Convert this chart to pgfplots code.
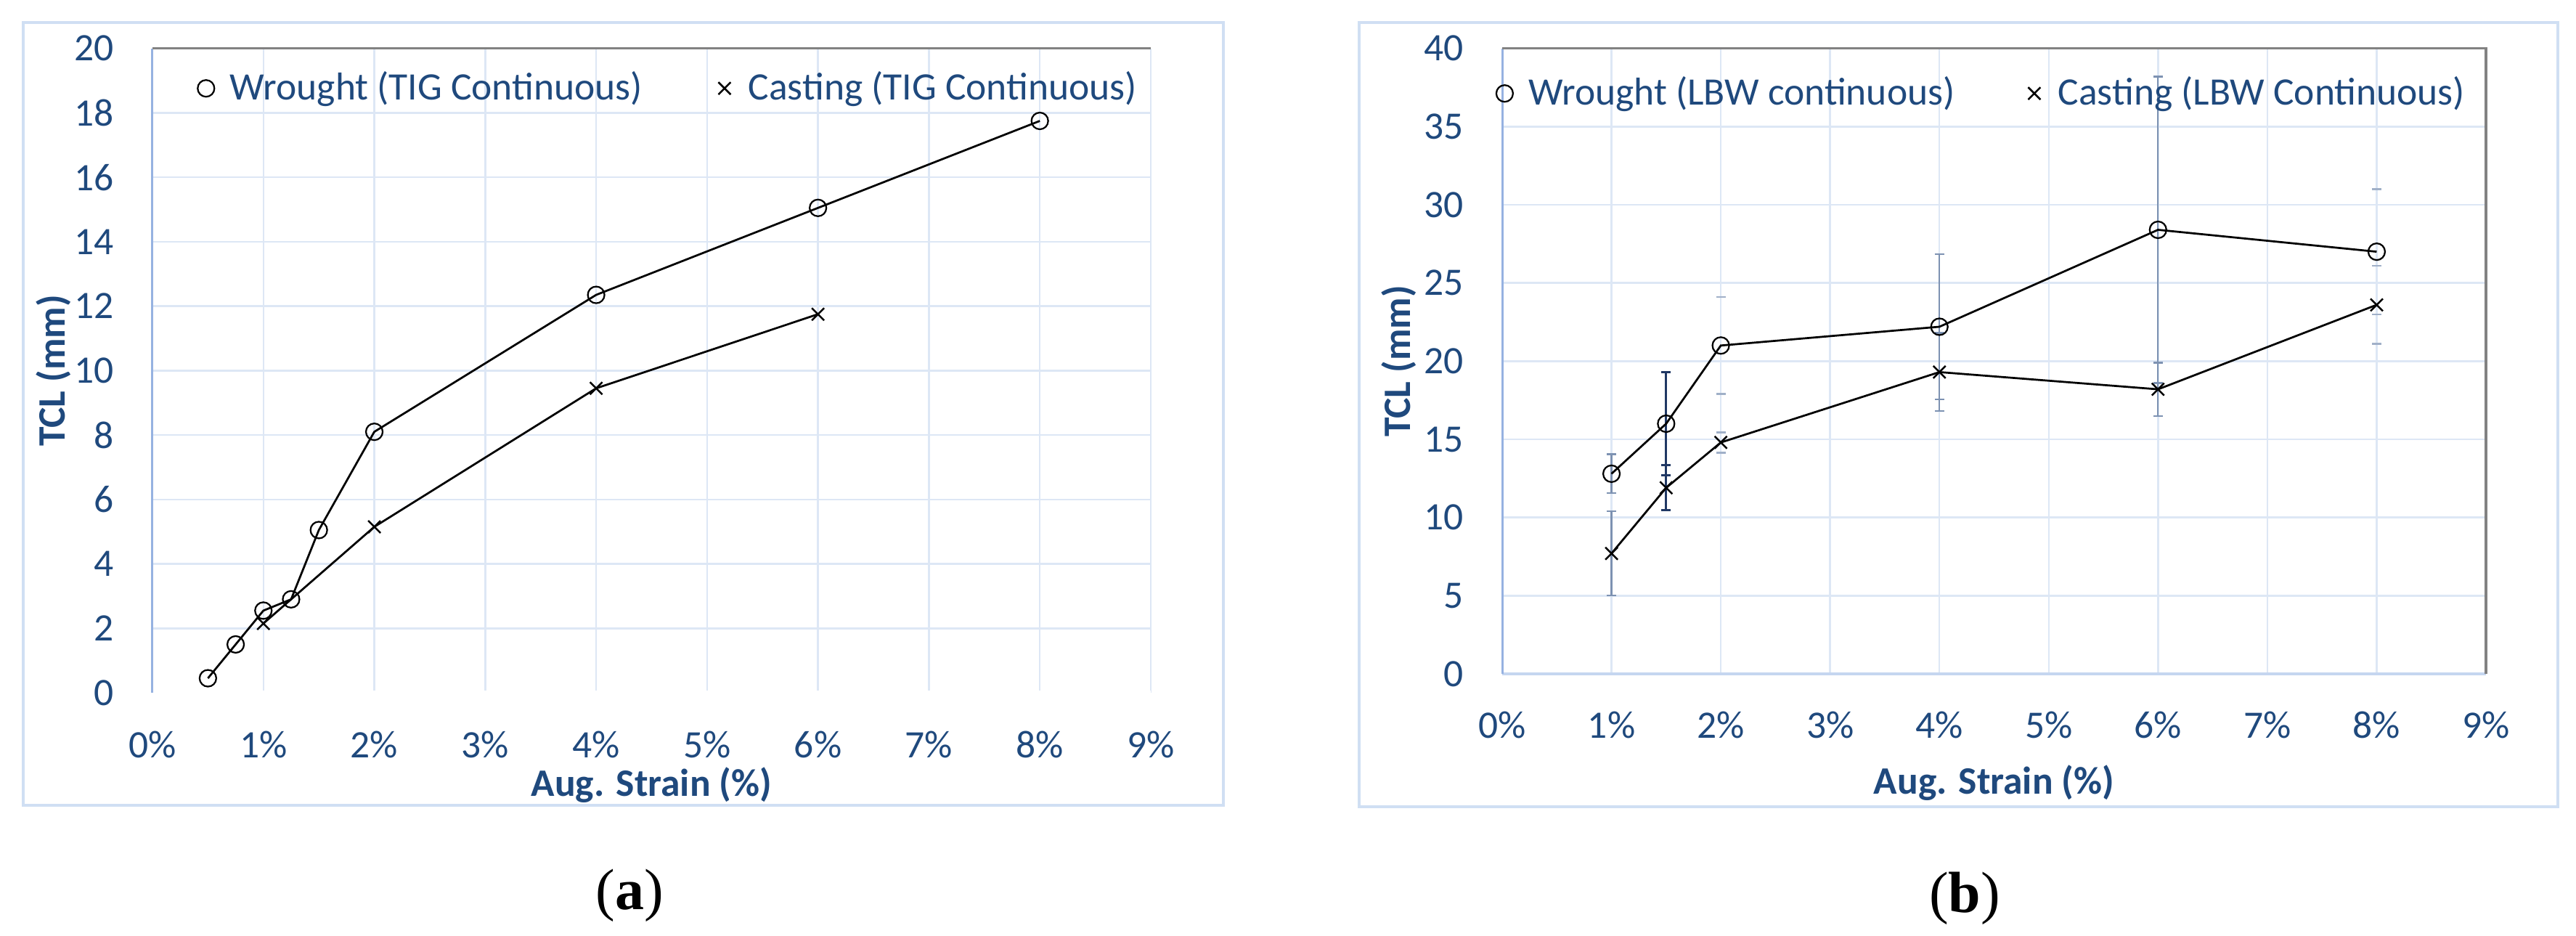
\documentclass[border=0pt]{standalone}
\usepackage{fontspec}
\setmainfont{Carlito}
\newfontfamily\capfont{Liberation Serif}
\usepackage{pgfplots}
\pgfplotsset{compat=1.18}
\definecolor{txtblue}{RGB}{31,73,125}
\definecolor{gridblue}{RGB}{221,231,245}
\definecolor{framecol}{RGB}{208,223,243}
\definecolor{axblue}{RGB}{150,178,225}
\definecolor{axlight}{RGB}{197,214,240}
\definecolor{bordergray}{RGB}{130,130,130}
\definecolor{ebar}{RGB}{125,146,178}
\definecolor{ebarlight}{RGB}{160,176,200}
\definecolor{ebardark}{RGB}{32,56,100}

\pgfplotsset{
 common/.style={
  scale only axis,
  anchor=south west,
  xmin=0, xmax=9,
  xtick={0,...,9},
  xticklabels={0\%,1\%,2\%,3\%,4\%,5\%,6\%,7\%,8\%,9\%},
  /pgf/number format/assume math mode=true,
  tick style={draw=none},
  axis line style={draw=none},
  grid=major,
  major grid style={draw=gridblue, line width=0.5pt},
  tick label style={font=\fontsize{10.7}{12}\selectfont, text=txtblue},
  label style={font=\fontsize{10.7}{12}\selectfont\bfseries, text=txtblue},
  yticklabel style={anchor=east, inner sep=0pt, xshift=-10.4pt},
  legend style={draw=none, fill=none, font=\fontsize{10.7}{12}\selectfont, text=txtblue,
     legend columns=2, anchor=west, inner sep=0pt, outer sep=0pt},
  legend image code/.code={\path (-2.3pt,0pt) (4.3pt,0pt); \draw[##1] plot[only marks] coordinates {(0pt,0pt)};},
  clip=false,
 },
 wr/.style={black, line width=0.55pt, mark=o, mark size=2.3pt, mark options={line width=0.45pt, solid, fill=none}},
 ca/.style={black, line width=0.55pt, mark=x, mark size=2.4pt, mark options={line width=0.5pt, solid}},
 eb/.style={forget plot, draw=none, mark=none, error bars/.cd, y dir=both, y explicit},
}

\begin{document}
\begin{tikzpicture}
\path[use as bounding box] (0,0) rectangle (709.6pt,257.6pt);
\draw[framecol, line width=0.7pt] (6.4pt,35.8pt) rectangle (337pt,251.4pt);
\draw[framecol, line width=0.7pt] (374.4pt,35.4pt) rectangle (704.6pt,251.4pt);

% ---------------- (a)
\begin{axis}[common,
  at={(42pt,66.8pt)}, width=275pt, height=177.46pt,
  ymin=0, ymax=20, ytick={0,2,...,20},
  xlabel={Aug. Strain (\%)}, ylabel={TCL (mm)},
  xlabel style={at={(axis description cs:0.5,-0.1431)}, anchor=center},
  ylabel style={at={(axis description cs:-0.0989,0.5)}, anchor=center},
  xticklabel style={anchor=center, inner sep=0pt, yshift=-14.2pt},
  legend style={at={(0.0443,0.938)}, /tikz/every even column/.append style={column sep=18pt}},
]
\draw[white, line width=1.2pt] (rel axis cs:0,0) -- (rel axis cs:1,0);
\draw[axblue, line width=0.6pt] (rel axis cs:0,0) -- (rel axis cs:0,1);
\draw[bordergray, line width=0.7pt] (rel axis cs:0,1) -- (rel axis cs:1,1);
\addplot[wr] coordinates {(0.5,0.45) (0.75,1.5) (1,2.55) (1.25,2.9) (1.5,5.05) (2,8.1) (4,12.35) (6,15.05) (8,17.75)};
\addlegendentry{Wrought (TIG Continuous)}
\addplot[ca] coordinates {(1,2.15) (2,5.15) (4,9.45) (6,11.75)};
\addlegendentry{Casting (TIG Continuous)}
\end{axis}

% ---------------- (b)
\begin{axis}[common,
  at={(413.8pt,72pt)}, width=271pt, height=172.26pt,
  ymin=0, ymax=40, ytick={0,5,...,40},
  xlabel={Aug. Strain (\%)}, ylabel={TCL (mm)},
  xlabel style={at={(axis description cs:0.5,-0.1742)}, anchor=center},
  ylabel style={at={(axis description cs:-0.1048,0.5)}, anchor=center},
  xticklabel style={anchor=center, inner sep=0pt, yshift=-14pt},
  legend style={at={(-0.007,0.928)}, /tikz/every even column/.append style={column sep=17.3pt}},
]
\draw[axlight, line width=0.7pt] (rel axis cs:0,0) -- (rel axis cs:1,0);
\draw[axblue, line width=0.6pt] (rel axis cs:0,0) -- (rel axis cs:0,1);
\draw[bordergray, line width=0.7pt] (rel axis cs:0,1) -- (rel axis cs:1,1) -- (rel axis cs:1,0);
% error bars with visible lines
\addplot[eb, error bar style={line width=0.45pt, draw=ebar},
  error mark options={rotate=90, mark size=1.3pt, draw=ebar, line width=0.45pt}]
  coordinates {(1,12.8) +- (0,1.25) (4,22.2) +- (0,4.65) (6,28.4) +- (0,9.8)
               (1,7.7) +- (0,2.7) (4,19.3) +- (0,2.5) (6,18.2) +- (0,1.7)};
\addplot[eb, error bar style={line width=0.6pt, draw=ebardark},
  error mark options={rotate=90, mark size=1.3pt, draw=ebardark, line width=0.6pt}]
  coordinates {(1.5,16.0) +- (0,3.3) (1.5,11.9) +- (0,1.45)};
% error bars showing caps only
\addplot[eb, error bar style={line width=0.45pt, draw=ebarlight, draw opacity=0},
  error mark options={rotate=90, mark size=1.3pt, draw=ebarlight, draw opacity=1, line width=0.5pt}]
  coordinates {(2,21.0) +- (0,3.1) (8,27.0) +- (0,4.0) (2,14.8) +- (0,0.65) (8,23.6) +- (0,2.5)};
\addplot[wr] coordinates {(1,12.8) (1.5,16.0) (2,21.0) (4,22.2) (6,28.4) (8,27.0)};
\addlegendentry{Wrought (LBW continuous)}
\addplot[ca] coordinates {(1,7.7) (1.5,11.9) (2,14.8) (4,19.3) (6,18.2) (8,23.6)};
\addlegendentry{Casting (LBW Continuous)}
\end{axis}

\node[font=\capfont\fontsize{16}{19}\selectfont] at (173.4pt,11pt) {(\textbf{a})};
\node[font=\capfont\fontsize{16}{19}\selectfont] at (541.2pt,10.2pt) {(\textbf{b})};
\end{tikzpicture}
\end{document}
